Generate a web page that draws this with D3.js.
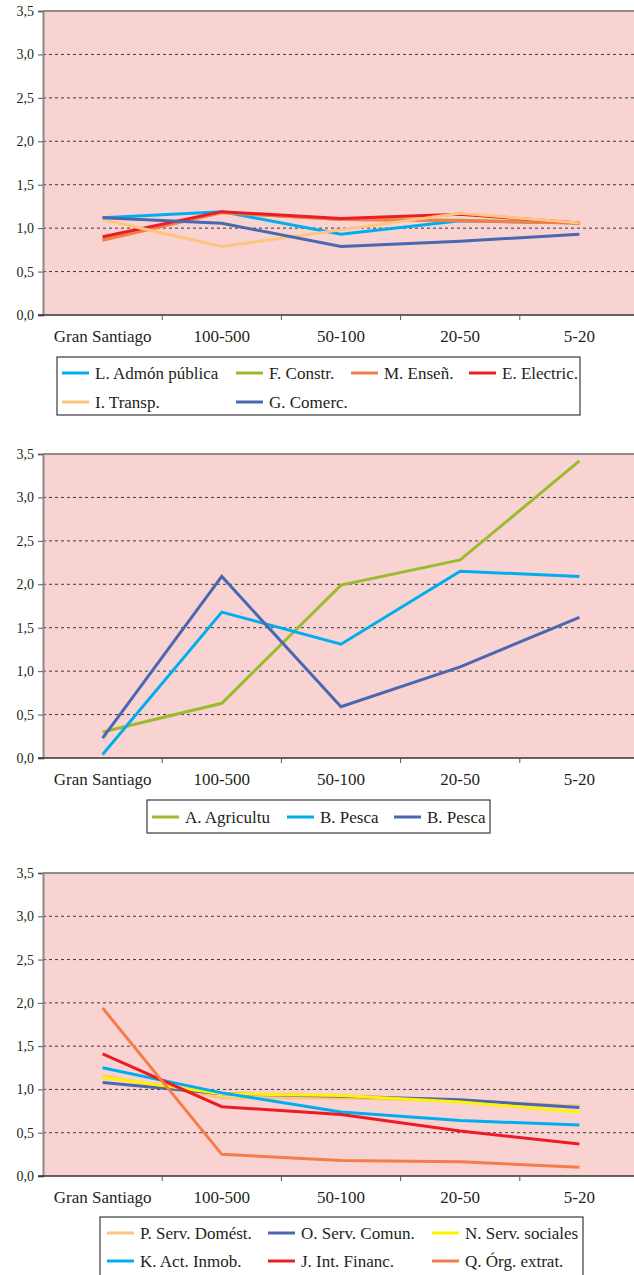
<!DOCTYPE html>
<html><head><meta charset="utf-8">
<script src="https://cdn.jsdelivr.net/npm/d3@7"></script>
<style>
html,body{margin:0;padding:0;background:#fff;}
svg{display:block;}
</style></head>
<body>
<svg id="c" width="634" height="1275"></svg>
<script>
// ---- data ----
const categories = ["Gran Santiago","100-500","50-100","20-50","5-20"];
const yTicks = [0,0.5,1,1.5,2,2.5,3,3.5];

// chart 1
const c1Names = ["L. Admón pública","F. Constr.","M. Enseñ.","E. Electric.","I. Transp.","G. Comerc."];
const c1Admon   = [1.12, 1.19, 0.93, 1.085, 1.06];
const c1Constr  = [0.87, 1.18, 1.10, 1.09, 1.06];
const c1Ensen   = [0.86, 1.18, 1.10, 1.085, 1.06];
const c1Electr  = [0.90, 1.19, 1.11, 1.16, 1.06];
const c1Transp  = [1.10, 0.79, 0.98, 1.17, 1.06];
const c1Comerc  = [1.12, 1.055, 0.79, 0.85, 0.93];

// chart 2
const c2Names = ["A. Agricultu","B. Pesca","B. Pesca"];
const c2Agric  = [0.30, 0.63, 1.99, 2.28, 3.42];
const c2Pesca1 = [0.04, 1.68, 1.31, 2.15, 2.09];
const c2Pesca2 = [0.23, 2.09, 0.59, 1.05, 1.62];

// chart 3
const c3Names = ["P. Serv. Domést.","O. Serv. Comun.","N. Serv. sociales","K. Act. Inmob.","J. Int. Financ.","Q. Órg. extrat."];
const c3Domest  = [1.16, 0.90, 0.90, 0.87, 0.81];
const c3Comun   = [1.08, 0.95, 0.92, 0.88, 0.79];
const c3Social  = [1.14, 0.95, 0.93, 0.855, 0.74];
const c3Inmob   = [1.25, 0.96, 0.74, 0.64, 0.59];
const c3Financ  = [1.41, 0.80, 0.71, 0.52, 0.37];
const c3Extrat  = [1.94, 0.25, 0.18, 0.165, 0.10];

// ---- styles ----
const FONT = "'Liberation Serif', 'Times New Roman', Times, 'DejaVu Serif', serif";
const COL = {
  cyan:"#00aeef", green:"#9bbb2f", orange:"#f47d4a", red:"#ed1c24",
  lorange:"#fdc57e", dblue:"#4a68b0", yellow:"#fff200"
};

const svg = d3.select("#c");
const X0 = 43, X1 = 639;
const x = d3.scaleBand().domain(categories).range([X0, X1]).padding(0);

function txt(sel, size){
  return sel.attr("font-family", FONT).style("font-family", FONT)
    .style("font-size", size + "px").attr("fill", "#231f20");
}

function drawChart(cfg){
  const y = d3.scaleLinear().domain([0,3.5]).range([cfg.bottom, cfg.top]);
  const g = svg.append("g");
  g.append("rect").attr("x",X0).attr("y",cfg.top).attr("width",634-X0).attr("height",cfg.bottom-cfg.top)
    .attr("fill","#f9d3d2");
  g.selectAll(".grid").data(yTicks.filter(v=>v>0 && v<3.5)).enter().append("line")
    .attr("x1",X0).attr("x2",634).attr("y1",d=>y(d)).attr("y2",d=>y(d))
    .attr("stroke","#3a3a3a").attr("stroke-width",1).attr("stroke-dasharray","3,3");
  g.append("line").attr("x1",X0).attr("x2",634).attr("y1",y(3.5)).attr("y2",y(3.5))
    .attr("stroke","#6d6d6d").attr("stroke-width",1.3);
  const ya = d3.axisLeft(y).tickValues(yTicks).tickSize(5).tickPadding(4)
    .tickFormat(d=>d3.format(".1f")(d).replace(".",","));
  const yg = g.append("g").attr("transform",`translate(${X0},0)`).call(ya);
  yg.attr("font-family", FONT);
  yg.select(".domain").attr("stroke","#8a8a8a").attr("stroke-width",2);
  yg.selectAll(".tick line").attr("stroke","#555");
  txt(yg.selectAll("text"), 14);
  const xg = g.append("g").attr("transform",`translate(0,${cfg.bottom})`);
  xg.append("line").attr("x1",X0-5).attr("x2",634).attr("y1",0).attr("y2",0).attr("stroke","#333").attr("stroke-width",1.3);
  const bounds = categories.slice(1).map(c=>x(c));
  xg.selectAll(".xt").data(bounds).enter().append("line")
    .attr("x1",d=>d).attr("x2",d=>d).attr("y1",0).attr("y2",5).attr("stroke","#555");
  txt(xg.selectAll(".xl").data(categories).enter().append("text")
    .attr("x",d=>x(d)+x.bandwidth()/2).attr("y",27).attr("text-anchor","middle")
    .text(d=>d), 17);
  const line = d3.line().x((d,i)=>x(categories[i])+x.bandwidth()/2).y(d=>y(d));
  cfg.series.forEach(s=>{
    g.append("path").datum(s.values).attr("d",line).attr("fill","none")
      .attr("stroke",s.color).attr("stroke-width",3).attr("stroke-linejoin","miter");
  });
  const L = cfg.legend;
  const lg = svg.append("g");
  lg.append("rect").attr("x",L.x).attr("y",L.y).attr("width",L.w).attr("height",L.h)
    .attr("fill","#fff").attr("stroke","#3a3a3a").attr("stroke-width",1.2);
  cfg.series.forEach((s,i)=>{
    const col = i % L.cols.length, row = Math.floor(i / L.cols.length);
    const cx = L.cols[col], cy = L.rows[row];
    lg.append("line").attr("x1",cx).attr("x2",cx+27).attr("y1",cy).attr("y2",cy)
      .attr("stroke",s.color).attr("stroke-width",3);
    txt(lg.append("text").attr("x",cx+33).attr("y",cy+5.5).text(s.name), 17);
  });
}

drawChart({
  top:11, bottom:315,
  series:[
    {name:c1Names[0], values:c1Admon, color:COL.cyan},
    {name:c1Names[1], values:c1Constr, color:COL.green},
    {name:c1Names[2], values:c1Ensen, color:COL.orange},
    {name:c1Names[3], values:c1Electr, color:COL.red},
    {name:c1Names[4], values:c1Transp, color:COL.lorange},
    {name:c1Names[5], values:c1Comerc, color:COL.dblue}
  ],
  legend:{x:57,y:357,w:523,h:58,cols:[62,236,351,469],rows:[373,402]}
});

drawChart({
  top:454, bottom:758,
  series:[
    {name:c2Names[0], values:c2Agric, color:COL.green},
    {name:c2Names[1], values:c2Pesca1, color:COL.cyan},
    {name:c2Names[2], values:c2Pesca2, color:COL.dblue}
  ],
  legend:{x:147,y:800,w:343,h:33,cols:[152,287,394],rows:[817]}
});

drawChart({
  top:873, bottom:1176,
  series:[
    {name:c3Names[0], values:c3Domest, color:COL.lorange},
    {name:c3Names[1], values:c3Comun, color:COL.dblue},
    {name:c3Names[2], values:c3Social, color:COL.yellow},
    {name:c3Names[3], values:c3Inmob, color:COL.cyan},
    {name:c3Names[4], values:c3Financ, color:COL.red},
    {name:c3Names[5], values:c3Extrat, color:COL.orange}
  ],
  legend:{x:100,y:1217,w:483,h:70,cols:[107,268,432],rows:[1233,1261]}
});
</script>
</body></html>
